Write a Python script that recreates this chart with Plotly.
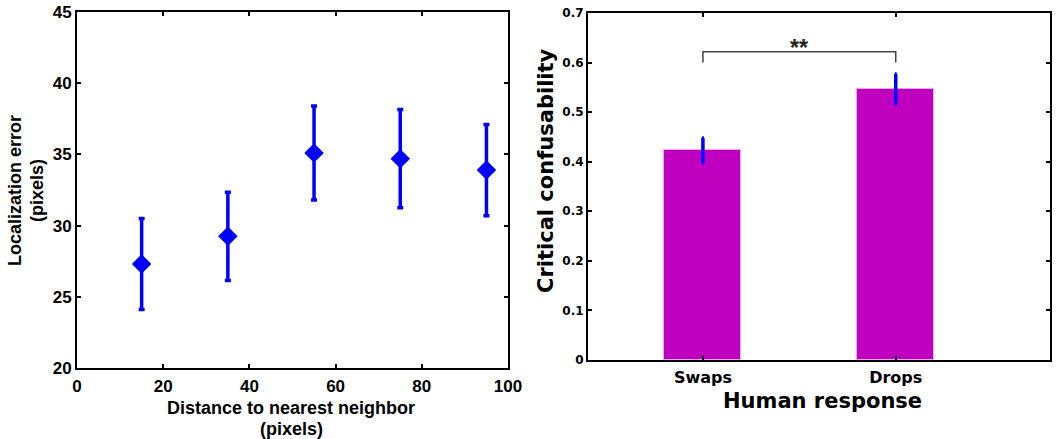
import plotly.graph_objects as go

# Left panel data
distance = [15, 35, 55, 75, 95]
loc_error = [27.3, 29.25, 35.1, 34.7, 33.9]
loc_err_bar = [3.2, 3.1, 3.3, 3.45, 3.2]

# Right panel data
responses = ["Swaps", "Drops"]
resp_pos = [1, 2]
confusability = [0.423, 0.547]
conf_err = [0.025, 0.03]
signif_label = "**"

BLUE = "#0000ff"
MAG = "#bf00bf"
LFONT = "Liberation Sans"
RFONT = "DejaVu Sans"

fig = go.Figure()

fig.add_trace(go.Scatter(
    x=distance, y=loc_error, mode="markers",
    marker=dict(symbol="diamond", size=15, color=BLUE),
    error_y=dict(type="data", array=loc_err_bar, color=BLUE, thickness=3.5, width=3),
    xaxis="x", yaxis="y", showlegend=False))

fig.add_trace(go.Bar(
    x=resp_pos, y=confusability, width=0.4,
    marker=dict(color=MAG, line=dict(color="#f0a8f0", width=1)),
    error_y=dict(type="data", array=conf_err, color=BLUE, thickness=3.5, width=1),
    xaxis="x2", yaxis="y2", showlegend=False))

ax_common = dict(showline=True, linecolor="black", linewidth=2, mirror="allticks",
                 ticks="inside", ticklen=4, tickwidth=2, tickcolor="black",
                 showgrid=False, zeroline=False, automargin=False)

fig.update_layout(
    width=1059, height=439,
    margin=dict(l=0, r=0, t=0, b=0, pad=0),
    paper_bgcolor="white", plot_bgcolor="white",
    bargap=0,
    xaxis=dict(domain=[77/1059, 508/1059], range=[0, 100], tickvals=[0, 20, 40, 60, 80, 100],
               ticklabelstandoff=2,
               anchor="y", tickfont=dict(family=LFONT, size=17, color="black", weight="bold"), **ax_common),
    yaxis=dict(domain=[1-368/439, 1-12/439], range=[20, 45], tickvals=[20, 25, 30, 35, 40, 45],
               anchor="x", tickfont=dict(family=LFONT, size=17, color="black", weight="bold"), **ax_common),
    xaxis2=dict(domain=[588/1059, 1050/1059], range=[0.404, 2.8], tickvals=resp_pos, ticktext=responses,
                ticklabelstandoff=2,
                anchor="y2", tickfont=dict(family=RFONT, size=16, color="black", weight="bold"), **ax_common),
    yaxis2=dict(domain=[1-360/439, 1-13/439], range=[0, 0.7],
                tickvals=[0, 0.1, 0.2, 0.3, 0.4, 0.5, 0.6, 0.7], ticktext=["0", "0.1", "0.2", "0.3", "0.4", "0.5", "0.6", "0.7"],
                anchor="x2", tickfont=dict(family=RFONT, size=12, color="black", weight="bold"), **ax_common),
)

# Significance bracket (derived from data tops)
top = max(v + e for v, e in zip(confusability, conf_err))
br_y = top + 0.045
br_drop = 0.022
fig.add_shape(type="path", xref="x2", yref="y2",
              path=f"M {resp_pos[0]},{br_y-br_drop} L {resp_pos[0]},{br_y} L {resp_pos[1]},{br_y} L {resp_pos[1]},{br_y-br_drop}",
              line=dict(color="#444444", width=1.5))
fig.add_annotation(x=sum(resp_pos)/2, y=br_y, xref="x2", yref="y2", text=f"<b>{signif_label}</b>",
                   showarrow=False, yanchor="middle", xanchor="center", yshift=4,
                   font=dict(family=LFONT, size=23, color="#222222"))

def title(x, y, text, family, size, angle=0):
    fig.add_annotation(x=x/1059, y=1-y/439, xref="paper", yref="paper", text=f"<b>{text}</b>",
                       showarrow=False, textangle=angle, xanchor="center", yanchor="middle",
                       font=dict(family=family, size=size, color="black"))

title(291, 408, "Distance to nearest neighbor", LFONT, 18)
title(291, 429, "(pixels)", LFONT, 18)
title(15, 191, "Localization error", LFONT, 18, -90)
title(37, 191, "(pixels)", LFONT, 18, -90)
title(822, 401, "Human response", RFONT, 21)
title(546, 171, "Critical confusability", RFONT, 21, -90)

fig.write_html("out.html", config={"displayModeBar": False},
               post_script="document.body.style.margin='0';document.body.style.overflow='hidden';")
